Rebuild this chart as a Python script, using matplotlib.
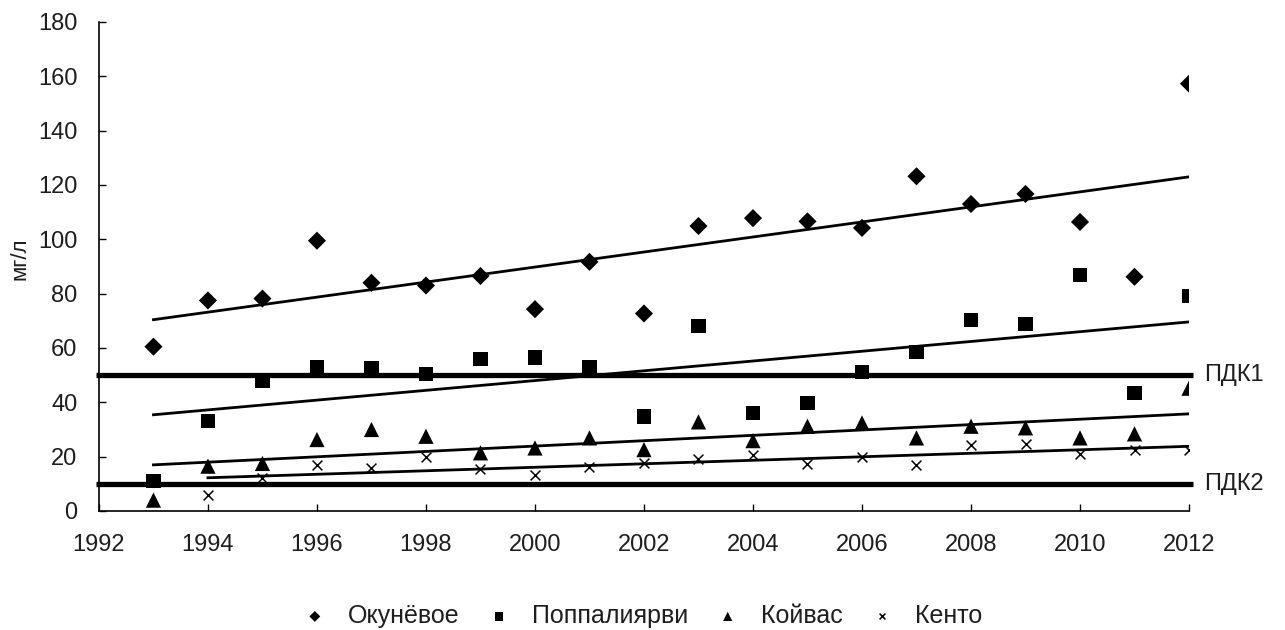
import numpy as np
import matplotlib
matplotlib.use("Agg")
import matplotlib.pyplot as plt

plt.rcParams['font.family'] = ['Liberation Sans', 'DejaVu Sans']

years = list(range(1993, 2013))
kento_years = list(range(1994, 2013))

okunevoe = [60.5, 77.5, 78.2, 99.5, 84.0, 83.0, 86.5, 74.3, 91.7, 72.7,
            104.9, 107.8, 106.6, 104.2, 123.2, 113.0, 116.7, 106.4, 86.2, 157.3]
poppaliyarvi = [11.0, 33.0, 48.0, 53.0, 52.5, 50.5, 56.0, 56.5, 52.8, 34.8,
                68.2, 36.0, 39.7, 51.1, 58.4, 70.3, 68.8, 87.0, 43.4, 79.1]
koivas = [4.0, 16.5, 17.5, 26.3, 30.0, 27.5, 21.4, 23.2, 26.9, 22.6,
          32.8, 25.9, 31.2, 32.4, 26.9, 31.2, 30.6, 26.9, 28.4, 45.2]
kento = [6.0, 12.0, 17.0, 16.0, 19.8, 15.6, 13.2, 16.1, 17.7, 19.3,
         20.5, 17.4, 19.8, 16.9, 24.2, 24.7, 21.0, 22.6, 22.6]

series_names = ['Окунёвое', 'Поппалиярви', 'Койвас', 'Кенто']
limit_values = [50, 10]
limit_labels = ['ПДК1', 'ПДК2']
x_ticks = list(range(1992, 2013, 2))
y_ticks = list(range(0, 181, 20))

TEXT = '#1e1e1e'
FS = 17

fig = plt.figure(figsize=(12.85, 6.3), dpi=100)
ax = fig.add_axes([0.0770, 0.1889, 0.8483, 0.7762])

series = [
    (years, okunevoe, 'D', 85, 0),
    (years, poppaliyarvi, 's', 105, 0),
    (years, koivas, '^', 120, 0),
    (kento_years, kento, 'x', 50, 1.1),
]

handles = []
for (xs, ys, marker, size, lw), name in zip(series, series_names):
    xs = np.array(xs, dtype=float)
    ys = np.array(ys, dtype=float)
    if marker == 'x':
        h = ax.scatter(xs, ys, marker=marker, s=size, color='black',
                       linewidths=lw, zorder=4, label=name)
    else:
        h = ax.scatter(xs, ys, marker=marker, s=size, color='black',
                       edgecolors='none', zorder=4, label=name)
    handles.append(h)
    # linear trend line over the years with data
    k, b = np.polyfit(xs, ys, 1)
    ax.plot([xs[0], xs[-1]], [k * xs[0] + b, k * xs[-1] + b],
            color='black', lw=2.0, zorder=3)

# limit lines with labels on the right
for val, lab in zip(limit_values, limit_labels):
    ax.plot([1991.95, 2012.07], [val, val], color='black', lw=3.8,
            zorder=2, clip_on=False, solid_capstyle='butt')
    ax.text(2012.28, val, lab, fontsize=FS, va='center', ha='left',
            color=TEXT)

ax.set_xlim(1992, 2012)
ax.set_ylim(0, 180)
ax.set_xticks(x_ticks)
ax.set_yticks(y_ticks)
ax.tick_params(direction='in', length=5, width=1, labelsize=FS,
               colors='black', labelcolor=TEXT)
ax.tick_params(axis='y', pad=15.5)
ax.tick_params(axis='x', pad=16.5)
for side in ('top', 'right'):
    ax.spines[side].set_visible(False)
for side in ('left', 'bottom'):
    ax.spines[side].set_linewidth(1.2)

fig.text(20 / 1285, 1 - 259 / 630, 'мг/л', rotation=90, fontsize=16,
         ha='center', va='center', color=TEXT)

fig.legend(handles=handles, labels=series_names, loc='center',
           bbox_to_anchor=(0.5, 1 - 616 / 630), ncol=4, frameon=False,
           fontsize=18, markerscale=0.6, handlelength=1.0,
           handletextpad=0.84, columnspacing=1.06, borderpad=0,
           labelcolor=TEXT)

fig.savefig('out.png', dpi=100)
